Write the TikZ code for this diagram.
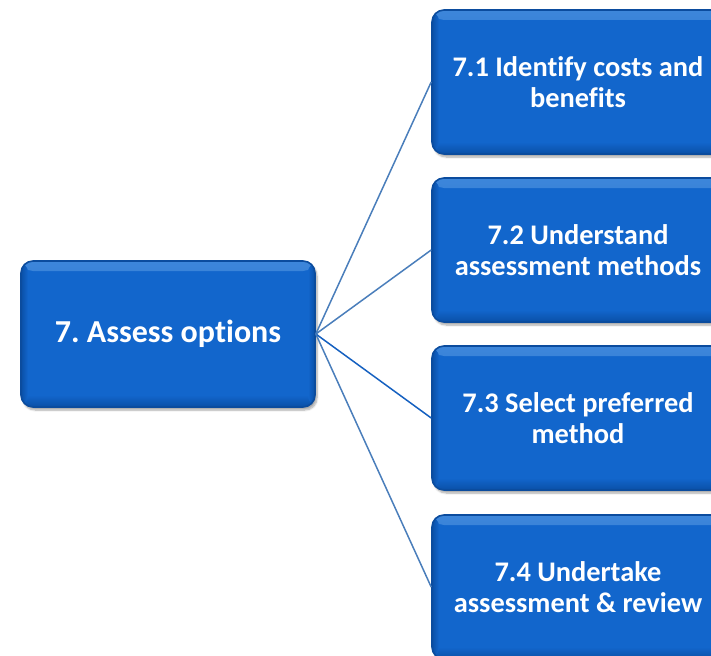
\documentclass[tikz,border=0pt]{standalone}
\usepackage{fontspec}
\setmainfont[Ligatures=NoCommon]{Carlito}
\usetikzlibrary{shadows.blur}
\definecolor{boxblue}{HTML}{1266CC}
\definecolor{boxedge}{HTML}{0B4C9E}
\definecolor{boxlight}{HTML}{3D86DA}
\definecolor{boxdark}{HTML}{0A4FA6}
\definecolor{linkblue}{HTML}{4A7EBB}
\definecolor{linkdark}{HTML}{1560C0}
\tikzset{
  box/.style={rectangle, rounded corners=12bp, fill=boxblue, draw=boxedge, line width=1.6bp,
    text=white, font=\bfseries\fontsize{28.4bp}{31bp}\selectfont, align=center,
    minimum width=292bp, minimum height=144bp, inner sep=0pt,
    blur shadow={shadow xshift=2bp, shadow yshift=-3bp, shadow blur steps=6, shadow opacity=35},
    path picture={
      \fill[top color=boxlight, bottom color=boxblue]
        (path picture bounding box.north west) rectangle
        ([yshift=-10bp]path picture bounding box.north east);
      \fill[top color=boxblue, bottom color=boxdark]
        ([yshift=12bp]path picture bounding box.south west) rectangle
        (path picture bounding box.south east);
      \fill[left color=boxdark, right color=boxblue]
        (path picture bounding box.south west) rectangle
        ([xshift=7bp]path picture bounding box.north west);
      \fill[left color=boxblue, right color=boxdark]
        ([xshift=-7bp]path picture bounding box.south east) rectangle
        (path picture bounding box.north east);
    }},
  mainbox/.style={box, minimum width=294bp, minimum height=146bp, font=\bfseries\fontsize{32bp}{35bp}\selectfont},
  link/.style={draw=linkblue, line width=1.5bp},
}
\begin{document}
\frenchspacing
\begin{tikzpicture}[x=1bp, y=-1bp]
\useasboundingbox (0,0) rectangle (711,656);
\clip (0,0) rectangle (711,656);
\node[mainbox] (L) at (168,334) {7. Assess options};
\node[box] (R1) at (578,82) {7.1 Identify costs and\\benefits};
\node[box] (R2) at (578,250) {7.2 Understand\\assessment methods};
\node[box] (R3) at (578,418) {7.3 Select preferred\\method};
\node[box] (R4) at (578,587) {7.4 Undertake\\assessment \& review};
\draw[link] (L.east) -- (R1.west);
\draw[link] (L.east) -- (R2.west);
\draw[link, draw=linkdark] (L.east) -- (R3.west);
\draw[link] (L.east) -- (R4.west);
\end{tikzpicture}
\end{document}
